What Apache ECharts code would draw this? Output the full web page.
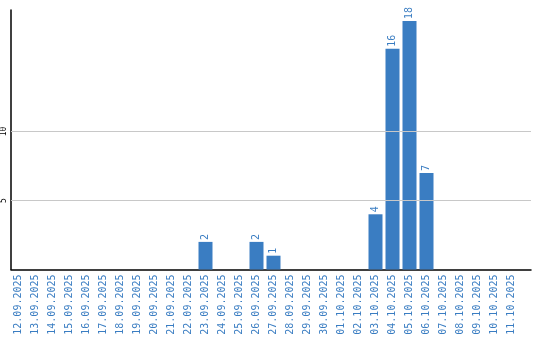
<!DOCTYPE html>
<html>
<head>
<meta charset="utf-8">
<script src="https://cdn.jsdelivr.net/npm/echarts@6/dist/echarts.min.js"></script>
<style>html,body{margin:0;padding:0;background:#fff}#c{width:540px;height:340px}</style>
</head>
<body>
<div id="c"></div>
<script>
var categories = ['12.09.2025','13.09.2025','14.09.2025','15.09.2025','16.09.2025','17.09.2025','18.09.2025','19.09.2025','20.09.2025','21.09.2025','22.09.2025','23.09.2025','24.09.2025','25.09.2025','26.09.2025','27.09.2025','28.09.2025','29.09.2025','30.09.2025','01.10.2025','02.10.2025','03.10.2025','04.10.2025','05.10.2025','06.10.2025','07.10.2025','08.10.2025','09.10.2025','10.10.2025','11.10.2025'];
var values = [0,0,0,0,0,0,0,0,0,0,0,2,0,0,2,1,0,0,0,0,0,4,16,18,7,0,0,0,0,0];
var yTickLabels = [5, 10];
var yMax = 18.8;

var blue = '#3a7dc2';
var chart = echarts.init(document.getElementById('c'), null, {renderer: 'canvas'});
chart.setOption({
  animation: false,
  grid: [
    {left: 10, width: 510, top: 10, height: 259.5},
    {left: 10, width: 521, top: 10, height: 259.5}
  ],
  xAxis: [
    {
      type: 'category', gridIndex: 0, data: categories,
      axisLine: {show: false}, axisTick: {show: false},
      axisLabel: {rotate: 90, interval: 0, color: blue, fontFamily: 'DejaVu Sans Mono', fontSize: 10, margin: 5}
    },
    {
      type: 'value', gridIndex: 1, min: 0, max: 1,
      axisLine: {show: true, lineStyle: {color: '#000', width: 1.5}},
      axisTick: {show: false}, axisLabel: {show: false}, splitLine: {show: false}
    }
  ],
  yAxis: [
    {
      type: 'value', gridIndex: 0, min: 0, max: yMax,
      axisLine: {show: false}, axisTick: {show: false}, axisLabel: {show: false}, splitLine: {show: false}
    },
    {
      type: 'value', gridIndex: 1, min: 0, max: yMax, interval: 5,
      axisLine: {show: true, onZero: false, lineStyle: {color: '#000', width: 1.5}},
      axisTick: {show: false},
      axisLabel: {
        rotate: 90, color: '#000', fontFamily: 'DejaVu Sans Mono', fontSize: 8, margin: 3,
        formatter: function (v) { return yTickLabels.indexOf(v) >= 0 ? String(v) : ''; }
      },
      splitLine: {show: false}
    }
  ],
  series: [
    {
      type: 'bar', xAxisIndex: 0, yAxisIndex: 0, data: values,
      barWidth: 14,
      itemStyle: {color: blue},
      label: {
        show: true, position: 'top', rotate: 90, align: 'left', verticalAlign: 'middle', distance: 2,
        color: blue, fontFamily: 'DejaVu Sans Mono', fontSize: 10,
        formatter: function (p) { return p.value ? String(p.value) : ''; }
      },
      z: 3
    },
    {
      type: 'line', xAxisIndex: 1, yAxisIndex: 1, data: [],
      markLine: {
        silent: true, symbol: 'none', label: {show: false},
        lineStyle: {color: '#c8c8c8', type: 'solid', width: 1},
        data: yTickLabels.map(function (v) { return {yAxis: v}; })
      },
      z: 1
    }
  ]
});
</script>
</body>
</html>
